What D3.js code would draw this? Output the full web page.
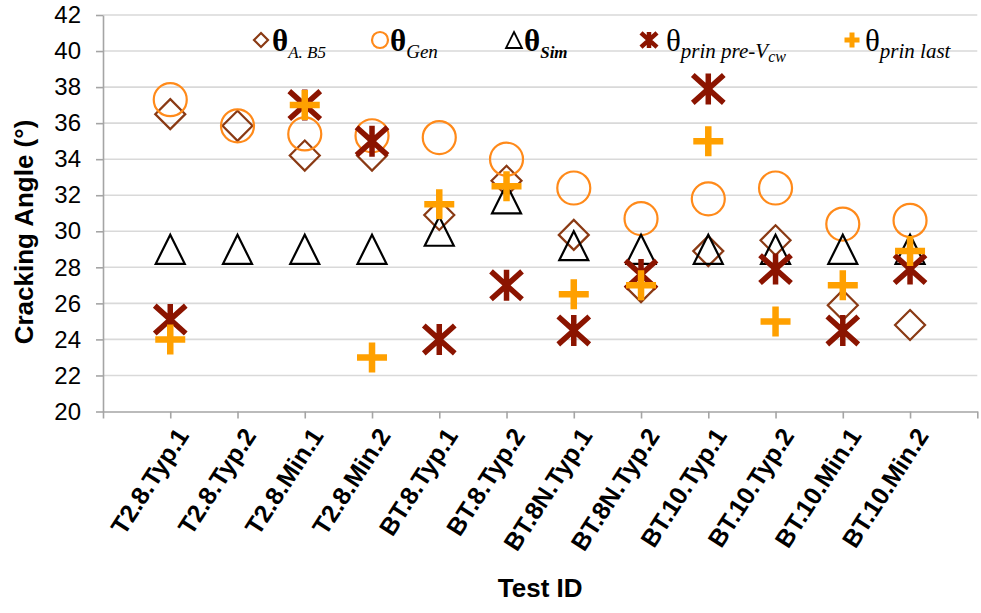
<!DOCTYPE html>
<html>
<head>
<meta charset="utf-8">
<script src="https://cdn.jsdelivr.net/npm/d3@7"></script>
<style>
  body { margin: 0; background: #fff; }
  svg { display: block; }
</style>
</head>
<body>
<svg id="chart" width="981" height="613"></svg>
<script>
// Test specimens (x positions 1..12 on the category axis)
const testIds = [
  "T2.8.Typ.1", "T2.8.Typ.2", "T2.8.Min.1", "T2.8.Min.2",
  "BT.8.Typ.1", "BT.8.Typ.2", "BT.8N.Typ.1", "BT.8N.Typ.2",
  "BT.10.Typ.1", "BT.10.Typ.2", "BT.10.Min.1", "BT.10.Min.2"
];

// Cracking angles in degrees (null = not measured)
const thetaAB5  = [36.5, 35.85, 34.2, 34.2, 30.9, 32.8, 29.8, 26.9, 28.9, 29.5, 25.9, 24.8];
const thetaGen  = [37.3, 35.85, 35.4, 35.3, 35.2, 34.0, 32.4, 30.7, 31.8, 32.4, 30.4, 30.6];
const thetaSim  = [29.0, 29.0, 29.0, 29.0, 30.0, 31.8, 29.2, 29.0, 29.0, 29.0, 29.0, 29.0];
const thetaPre  = [25.1, null, 37.0, 35.0, 24.0, 27.0, 24.5, 27.6, 37.9, 27.9, 24.5, 27.9];
const thetaLast = [24.0, null, 37.0, 23.0, 31.5, 32.5, 26.5, 27.0, 35.0, 25.0, 27.0, 28.9];

const yTicks = d3.range(20, 43, 2);
const xTicks = d3.range(0, 14);

const svg = d3.select("#chart");
const plot = { left: 103, right: 977.3, top: 15, bottom: 411.5 };

const x = d3.scaleLinear().domain([0, 13]).range([plot.left, plot.right]);
const y = d3.scaleLinear().domain([20, 42]).range([plot.bottom, plot.top]);

const axisColor = "#a5a5a5";
const gridColor = "#d9d9d9";

// Horizontal gridlines
svg.append("g")
  .selectAll("line")
  .data(yTicks.filter(v => v > 20))
  .join("line")
  .attr("x1", plot.left).attr("x2", plot.right)
  .attr("y1", d => y(d)).attr("y2", d => y(d))
  .attr("stroke", gridColor).attr("stroke-width", 1.6);

// Y axis
const yAxis = svg.append("g")
  .attr("transform", `translate(${plot.left},0)`)
  .call(d3.axisLeft(y).tickValues(yTicks).tickSize(7).tickSizeOuter(0).tickPadding(15));
yAxis.select(".domain").attr("stroke", axisColor).attr("stroke-width", 1.6);
yAxis.selectAll(".tick line").attr("stroke", axisColor).attr("stroke-width", 1.6);
yAxis.selectAll(".tick text")
  .attr("fill", "#000")
  .style("font-family", "Liberation Sans, Arial, sans-serif")
  .style("font-size", "24px");

// X axis
const xAxis = svg.append("g")
  .attr("transform", `translate(0,${plot.bottom})`)
  .call(d3.axisBottom(x).tickValues(xTicks).tickSize(7).tickSizeOuter(0)
    .tickFormat(d => (d >= 1 && d <= testIds.length) ? testIds[d - 1] : ""));
xAxis.select(".domain").attr("stroke", axisColor).attr("stroke-width", 1.6);
xAxis.selectAll(".tick line").attr("stroke", axisColor).attr("stroke-width", 1.6);
xAxis.selectAll(".tick text")
  .attr("fill", "#000")
  .attr("text-anchor", "end")
  .attr("x", 0).attr("y", 0).attr("dy", 0)
  .attr("transform", "translate(19,24) rotate(-57)")
  .style("font-family", "Liberation Sans, Arial, sans-serif")
  .style("font-weight", "bold")
  .style("font-size", "25px");

// Axis titles
svg.append("text")
  .attr("transform", "translate(24,232) rotate(-90)")
  .attr("text-anchor", "middle").attr("dy", "0.35em")
  .style("font-family", "Liberation Sans, Arial, sans-serif")
  .style("font-weight", "bold").style("font-size", "26px")
  .text("Cracking Angle (°)");

svg.append("text")
  .attr("x", (plot.left + plot.right) / 2).attr("y", 597)
  .attr("text-anchor", "middle")
  .style("font-family", "Liberation Sans, Arial, sans-serif")
  .style("font-weight", "bold").style("font-size", "26px")
  .text("Test ID");

// Marker shapes, centred on (0,0), scaled by s
const shapes = {
  diamond: s => `M0,${-s}L${s},0L0,${s}L${-s},0Z`,
  triangle: s => `M0,${-s}L${s},${s}L${-s},${s}Z`,
  star: s => `M${-s},${-s * 0.9}L${s},${s * 0.9}M${-s},${s * 0.9}L${s},${-s * 0.9}M0,${-s}L0,${s}`,
  plus: s => `M${-s},0L${s},0M0,${-s}L0,${s}`
};

const series = [
  { values: thetaAB5,  kind: "diamond",  size: 15,   fill: "none", stroke: "#8a3a14", sw: 2.2 },
  { values: thetaGen,  kind: "circle",   size: 16.5, fill: "none", stroke: "#ff8a1a", sw: 2.2 },
  { values: thetaSim,  kind: "triangle", size: 14.5, fill: "none", stroke: "#000000", sw: 2.2 },
  { values: thetaPre,  kind: "star",     size: 15.5, fill: "none", stroke: "#8b1400", sw: 5.5 },
  { values: thetaLast, kind: "plus",     size: 15,   fill: "none", stroke: "#ffa000", sw: 6.5 }
];

function drawMarker(g, kind, size, style) {
  let m;
  if (kind === "circle") {
    m = g.append("circle").attr("r", size);
  } else {
    m = g.append("path").attr("d", shapes[kind](size));
  }
  m.attr("fill", style.fill).attr("stroke", style.stroke)
   .attr("stroke-width", style.sw).attr("stroke-linejoin", "miter");
  return m;
}

series.forEach(s => {
  const g = svg.append("g");
  s.values.forEach((v, i) => {
    if (v === null) return;
    const mg = g.append("g").attr("transform", `translate(${x(i + 1)},${y(v)})`);
    drawMarker(mg, s.kind, s.size, s);
  });
});

// Legend
const legendItems = [
  { kind: "diamond",  size: 7,   cx: 261, tx: 272, sub: "A. B5",      subSize: 17, bold: true,  subBold: false, series: series[0] },
  { kind: "circle",   size: 8,   cx: 380, tx: 390, sub: "Gen",        subSize: 19, bold: true,  subBold: false, series: series[1] },
  { kind: "triangle", size: 8,   cx: 514, tx: 524, sub: "Sim",        subSize: 17, bold: true,  subBold: true,  series: series[2] },
  { kind: "star",     size: 8,   cx: 649, tx: 666, sub: "prin pre-V", subSize: 21, bold: false, subBold: false, series: series[3], subsub: "cw" },
  { kind: "plus",     size: 7.5, cx: 852, tx: 865, sub: "prin last",  subSize: 21, bold: false, subBold: false, series: series[4] }
];

const legend = svg.append("g");
legendItems.forEach(it => {
  const mg = legend.append("g").attr("transform", `translate(${it.cx},40)`);
  const st = Object.assign({}, it.series);
  if (it.kind === "star") st.sw = 4.5;
  if (it.kind === "plus") st.sw = 5;
  if (it.kind === "triangle") st.sw = 1.8;
  drawMarker(mg, it.kind, it.size, st);

  const t = legend.append("text")
    .attr("x", it.tx).attr("y", 51)
    .style("font-family", "Liberation Serif, Times New Roman, serif")
    .attr("fill", "#000");
  t.append("tspan").text("θ")
    .style("font-size", "31px")
    .style("font-weight", it.bold ? "bold" : "normal");
  t.append("tspan").text(it.sub)
    .attr("dy", 7)
    .style("font-size", it.subSize + "px")
    .style("font-style", "italic")
    .style("font-weight", it.subBold ? "bold" : "normal");
  if (it.subsub) {
    t.append("tspan").text(it.subsub)
      .attr("dy", 4)
      .style("font-size", "16px")
      .style("font-style", "italic");
  }
});
</script>
</body>
</html>
